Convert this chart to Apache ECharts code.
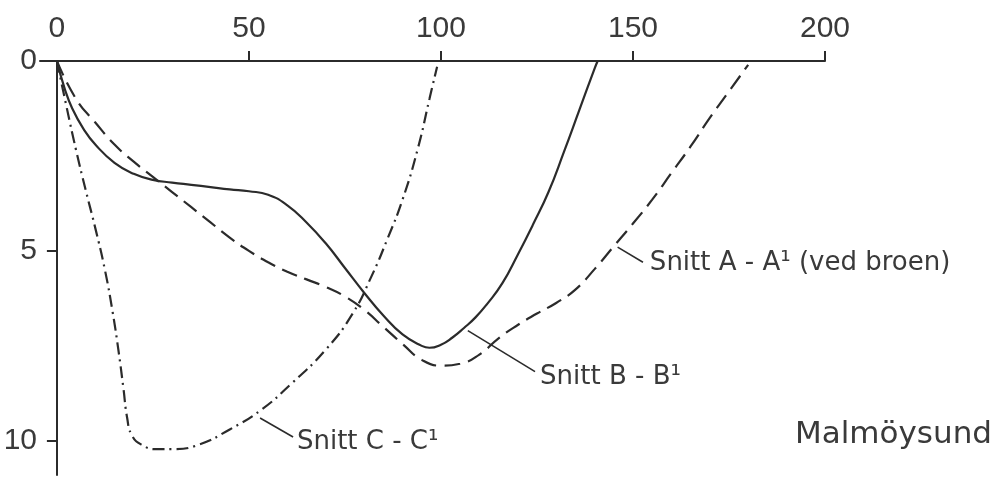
<!DOCTYPE html>
<html>
<head>
<meta charset="utf-8">
<script src="https://cdn.jsdelivr.net/npm/echarts@6/dist/echarts.min.js"></script>
<style>
  html, body { margin: 0; padding: 0; background: #fff; }
  #main { width: 1005px; height: 482px; }
</style>
</head>
<body>
<div id="main"></div>
<script>
// Snitt A - A' (ved broen), dashed
var aX = [0, 5, 10, 15, 20, 25, 30, 35, 40, 45, 50, 55, 60, 65, 70, 75, 80, 85, 90, 95, 100, 105, 110, 115, 120, 125, 130, 135, 140, 145, 150, 155, 160, 165, 170, 175, 180];
var aY = [0, 1.0, 1.62, 2.2, 2.65, 3.05, 3.45, 3.85, 4.25, 4.65, 5.0, 5.3, 5.55, 5.75, 5.95, 6.2, 6.55, 7.0, 7.45, 7.87, 8.02, 7.97, 7.73, 7.3, 6.95, 6.65, 6.37, 6.02, 5.48, 4.88, 4.28, 3.65, 2.95, 2.25, 1.5, 0.8, 0.1];

// Snitt B - B', solid
var bX = [0, 2, 4, 7, 10, 15, 20, 25, 30, 35, 40, 45, 50, 55, 60, 65, 70, 75, 80, 85, 90, 95, 97, 100, 103, 106, 109, 112, 116, 120, 124, 128, 132, 136, 140, 140.8];
var bY = [0, 0.72, 1.25, 1.8, 2.2, 2.68, 2.97, 3.13, 3.2, 3.26, 3.32, 3.38, 3.43, 3.52, 3.8, 4.25, 4.8, 5.45, 6.1, 6.7, 7.2, 7.5, 7.55, 7.47, 7.28, 7.03, 6.75, 6.4, 5.85, 5.1, 4.3, 3.45, 2.4, 1.3, 0.2, 0];

// Snitt C - C', dash-dot
var cX = [0, 2.5, 5, 7.5, 10, 12.5, 14.5, 16, 17.3, 18.3, 19.5, 22, 26, 30, 37, 45, 53, 61, 70, 77, 82, 86, 90, 94, 97, 99];
var cY = [0, 1.2, 2.35, 3.4, 4.4, 5.5, 6.6, 7.6, 8.6, 9.4, 9.85, 10.1, 10.22, 10.22, 10.1, 9.7, 9.2, 8.5, 7.6, 6.65, 5.65, 4.7, 3.65, 2.3, 1.0, 0.15];

var xTicks = [0, 50, 100, 150, 200];
var yLabels = [0, 5, 10];

// leader lines and their labels
var labelNames = ['Snitt A - A¹ (ved broen)', 'Snitt B - B¹', 'Snitt C - C¹'];
var leaderFrom = [[146, 4.9], [107, 7.1], [52.9, 9.4]];
var leaderTo = [[152.6, 5.3], [124.5, 8.18], [61.5, 9.9]];
var labelAt = [[154.4, 5.32], [125.8, 8.33], [62.5, 10.05]];

var ink = '#2b2b2b';
var textInk = '#3a3a3a';
var font = 'DejaVu Sans';
var digitFont = 'Liberation Sans';

function zip(xs, ys) {
    var out = [];
    for (var i = 0; i < xs.length; i++) out.push([xs[i], ys[i]]);
    return out;
}

function curve(name, xs, ys, dash, idx) {
    return {
        name: name,
        type: 'line',
        data: zip(xs, ys),
        smooth: 0.5,
        showSymbol: false,
        symbol: 'none',
        lineStyle: { color: ink, width: 2.2, type: dash },
        markLine: {
            silent: true,
            symbol: 'none',
            label: { show: false },
            lineStyle: { color: ink, width: 1.6, type: 'solid' },
            data: [[{ coord: leaderFrom[idx] }, { coord: leaderTo[idx] }]]
        },
        z: 3
    };
}

var chart = echarts.init(document.getElementById('main'));

var labelData = [];
for (var i = 0; i < labelNames.length; i++) {
    labelData.push([labelAt[i][0], labelAt[i][1], labelNames[i]]);
}

var option = {
    backgroundColor: '#fff',
    animation: false,
    title: {
        text: 'Malmöysund',
        left: 795,
        top: 419,
        padding: 0,
        textStyle: { fontFamily: font, fontSize: 31, fontWeight: 'normal', color: textInk }
    },
    grid: { left: 40, right: 180, top: 61, bottom: 7, outerBoundsMode: 'none', containLabel: false },
    xAxis: {
        type: 'value',
        position: 'top',
        min: -4.4,
        max: 200,
        axisLine: { show: true, onZero: true, lineStyle: { color: ink, width: 2 } },
        axisTick: { show: true, length: 10, customValues: [50, 100, 150, 200], lineStyle: { color: ink, width: 2 } },
        axisLabel: { customValues: xTicks, margin: 17, fontFamily: digitFont, fontSize: 30, color: textInk },
        splitLine: { show: false }
    },
    yAxis: {
        type: 'value',
        inverse: true,
        min: 0,
        max: 10.9,
        axisLine: { show: true, onZero: true, lineStyle: { color: ink, width: 2 } },
        axisTick: { show: true, length: 10, customValues: [5, 10], lineStyle: { color: ink, width: 2 } },
        axisLabel: { customValues: yLabels, margin: 3, fontFamily: digitFont, fontSize: 30, color: textInk },
        splitLine: { show: false }
    },
    series: [
        curve('Snitt A - A1', aX, aY, [16, 8], 0),
        curve('Snitt B - B1', bX, bY, 'solid', 1),
        curve('Snitt C - C1', cX, cY, [12, 5, 2, 5], 2),
        {
            type: 'scatter',
            data: labelData,
            symbolSize: 0,
            silent: true,
            itemStyle: { opacity: 1 },
            label: {
                show: true,
                position: 'right',
                distance: 0,
                opacity: 1,
                formatter: function (p) { return p.value[2]; },
                fontFamily: font,
                fontSize: 26,
                color: textInk
            }
        }
    ]
};

chart.setOption(option);
</script>
</body>
</html>
